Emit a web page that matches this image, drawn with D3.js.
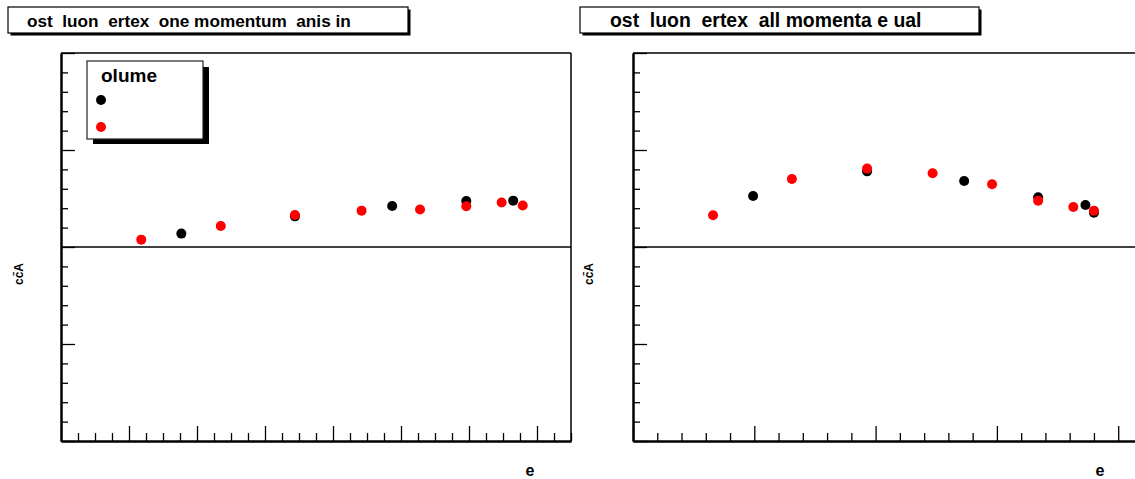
<!DOCTYPE html>
<html><head><meta charset="utf-8">
<script src="https://cdn.jsdelivr.net/npm/d3@7"></script>
<style>body{margin:0;background:#fff}svg{display:block}text{font-family:"Liberation Sans",Arial,sans-serif;font-weight:bold}</style>
</head><body>
<svg id="c" width="1135" height="479"></svg>
<script>
// ---- data ----
const panelTitles = ["ost  luon  ertex  one momentum  anis in", "ost  luon  ertex  all momenta e ual"];
const xAxisTitle = "e";
const yAxisTitle = "cc\u0304A";
const legendTitle = "olume";
const leftBlackX = [1.77, 3.44, 4.87, 5.96, 6.65];
const leftBlackY = [0.138, 0.316, 0.423, 0.474, 0.478];
const leftRedX = [1.18, 2.35, 3.44, 4.42, 5.28, 5.96, 6.48, 6.79];
const leftRedY = [0.076, 0.216, 0.330, 0.375, 0.386, 0.420, 0.458, 0.427];
const rightBlackX = [0.99, 1.93, 2.73, 3.34, 3.73, 3.80];
const rightBlackY = [0.526, 0.780, 0.680, 0.512, 0.433, 0.353];
const rightRedX = [0.66, 1.31, 1.93, 2.47, 2.96, 3.34, 3.63, 3.80];
const rightRedY = [0.327, 0.701, 0.808, 0.760, 0.646, 0.478, 0.412, 0.375];
const xMajorLeft = [0, 1, 2, 3, 4, 5, 6, 7];
const xMajorRight = [0, 1, 2, 3, 4];
const yMajor = [-2, -1, 0, 1, 2];

const svg = d3.select("#c");
const T = 53, B = 441;

const panels = [
  {x0: 61, x1: 571, dom: [0, 7.5], majors: xMajorLeft, nsub: 4, black: [leftBlackX, leftBlackY], red: [leftRedX, leftRedY],
   title: panelTitles[0], tfs: 17.2, tb: [8, 7, 408, 33], tx: 27, xt: 530, yl: 19, legend: true},
  {x0: 633, x1: 1144, dom: [0, 511/121.3], majors: xMajorRight, nsub: 5, black: [rightBlackX, rightBlackY], red: [rightRedX, rightRedY],
   title: panelTitles[1], tfs: 19.4, tb: [580, 7, 979, 33], tx: 610, xt: 1100, yl: 589, legend: false}
];

const y = d3.scaleLinear().domain([-2, 2]).range([B, T]);

panels.forEach(p => {
  const x = d3.scaleLinear().domain(p.dom).range([p.x0, p.x1]);
  const step = 1 / p.nsub;
  const minors = d3.range(0, p.dom[1] + 1e-9, step).map(v => +v.toFixed(3)).filter(v => Math.abs(v - Math.round(v)) > 1e-6);
  const g = svg.append("g");

  // frame top / right
  g.append("line").attr("x1", p.x0).attr("x2", p.x1).attr("y1", T).attr("y2", T).attr("stroke", "#000").attr("stroke-width", 1.5);
  g.append("line").attr("x1", p.x1).attr("x2", p.x1).attr("y1", T).attr("y2", B).attr("stroke", "#000").attr("stroke-width", 1.5);

  // x axis (inward ticks)
  const ax = g.append("g").attr("transform", `translate(0,${B})`);
  ax.call(d3.axisBottom(x).tickValues(p.majors).tickSizeInner(-15).tickSizeOuter(0).tickFormat(() => ""));
  ax.append("g").call(d3.axisBottom(x).tickValues(minors).tickSizeInner(-8).tickSizeOuter(0).tickFormat(() => ""));
  ax.selectAll("path.domain").attr("stroke-width", 2);
  ax.selectAll(".tick line").attr("stroke-width", 1.3);

  // y axis
  const ay = g.append("g").attr("transform", `translate(${p.x0},0)`);
  ay.call(d3.axisLeft(y).tickValues(yMajor).tickSizeInner(-14).tickSizeOuter(0).tickFormat(() => ""));
  const ym = d3.range(-10, 11).map(k => k * 0.2).filter(v => Math.abs(v - Math.round(v)) > 1e-6);
  ay.append("g").call(d3.axisLeft(y).tickValues(ym).tickSizeInner(-7).tickSizeOuter(0).tickFormat(() => ""));
  ay.selectAll("path.domain").attr("stroke-width", 2);
  ay.selectAll(".tick line").attr("stroke-width", 1.3);

  // zero line
  g.append("line").attr("x1", p.x0).attr("x2", p.x1).attr("y1", y(0)).attr("y2", y(0)).attr("stroke", "#000").attr("stroke-width", 1.5);

  // points
  const mk = (arr, col) => g.append("g").selectAll("circle").data(arr[0].map((v, i) => [v, arr[1][i]])).join("circle")
    .attr("cx", d => x(d[0])).attr("cy", d => y(d[1])).attr("r", 5).attr("fill", col);
  mk(p.black, "#000");
  mk(p.red, "#ff0000");

  // title box
  const [bx0, by0, bx1, by1] = p.tb;
  svg.append("rect").attr("x", bx0 + 2.5).attr("y", by0 + 2.5).attr("width", bx1 - bx0).attr("height", by1 - by0).attr("fill", "#000");
  svg.append("rect").attr("x", bx0).attr("y", by0).attr("width", bx1 - bx0).attr("height", by1 - by0).attr("fill", "#fff").attr("stroke", "#000").attr("stroke-width", 1.2);
  svg.append("text").attr("x", p.tx).attr("y", 26.5).attr("font-size", p.tfs).style("white-space", "pre").text(p.title);

  // axis titles
  svg.append("text").attr("x", p.xt).attr("y", 476).attr("text-anchor", "middle").attr("font-size", 16).text(xAxisTitle);
  svg.append("text").attr("transform", `translate(${p.yl + 4},274) rotate(-90)`).attr("text-anchor", "middle").attr("font-size", 12).text(yAxisTitle);

  if (p.legend) {
    svg.append("rect").attr("x", 93).attr("y", 67).attr("width", 116).attr("height", 77).attr("fill", "#000");
    svg.append("rect").attr("x", 87).attr("y", 61).attr("width", 116).attr("height", 78).attr("fill", "#fff").attr("stroke", "#222").attr("stroke-width", 1.2);
    svg.append("text").attr("x", 101).attr("y", 81.5).attr("font-size", 19).text(legendTitle);
    svg.append("circle").attr("cx", 101).attr("cy", 100).attr("r", 5).attr("fill", "#000");
    svg.append("circle").attr("cx", 101).attr("cy", 127).attr("r", 5).attr("fill", "#ff0000");
  }
});
</script>
</body></html>
